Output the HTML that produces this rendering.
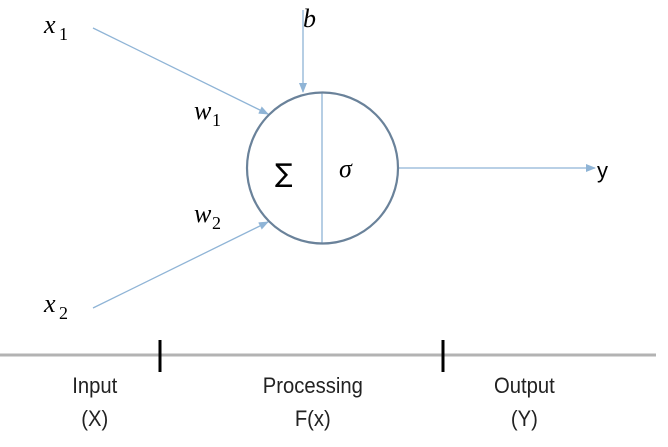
<!DOCTYPE html>
<html><head><style>
html,body{margin:0;padding:0;background:#fff;}
svg{display:block}
</style></head><body>
<svg width="668" height="447" viewBox="0 0 668 447" xmlns="http://www.w3.org/2000/svg">
<defs>
<marker id="a" markerWidth="10" markerHeight="8" refX="9" refY="4" orient="auto" markerUnits="userSpaceOnUse">
<path d="M0,0 L10,4 L0,8 z" fill="#8fb4d6"/>
</marker>
</defs>
<g stroke="#8fb4d6" stroke-width="1.3" fill="none">
<line x1="93" y1="28" x2="268" y2="114" marker-end="url(#a)"/>
<line x1="93" y1="308" x2="268" y2="222" marker-end="url(#a)"/>
<line x1="303" y1="10" x2="303" y2="92" marker-end="url(#a)"/>
<line x1="398" y1="168" x2="595" y2="168" marker-end="url(#a)"/>
<line x1="322" y1="92" x2="322" y2="244"/>
</g>
<circle cx="322.5" cy="168" r="75.5" fill="none" stroke="#6a829a" stroke-width="2.2"/>
<g font-family="Liberation Serif, serif" font-style="italic" font-size="26" fill="#000">
<text x="44" y="33">x</text><text x="59" y="40" font-style="normal" font-size="18">1</text>
<text x="44" y="312">x</text><text x="59" y="319" font-style="normal" font-size="18">2</text>
<text x="194" y="119">w</text><text x="212" y="126" font-style="normal" font-size="18">1</text>
<text x="194" y="222">w</text><text x="212" y="229" font-style="normal" font-size="18">2</text>
<text x="303" y="27">b</text>
<text x="339" y="177">σ</text>
</g>
<text x="275" y="182" font-family="DejaVu Sans, sans-serif" font-size="26">∑</text>
<text x="597" y="178" font-family="Liberation Sans, sans-serif" font-size="22">y</text>
<line x1="0" y1="355" x2="656" y2="355" stroke="#b3b3b3" stroke-width="3"/>
<line x1="160" y1="340" x2="160" y2="372" stroke="#000" stroke-width="3"/>
<line x1="443" y1="340" x2="443" y2="372" stroke="#000" stroke-width="3"/>
<g font-family="Liberation Sans, sans-serif" font-size="22" fill="#222" text-anchor="middle" transform="scale(0.92,1)">
<text x="103" y="393">Input</text><text x="103" y="426">(X)</text>
<text x="340" y="393">Processing</text><text x="340" y="426">F(x)</text>
<text x="570" y="393">Output</text><text x="570" y="426">(Y)</text>
</g>
</svg>
</body></html>
